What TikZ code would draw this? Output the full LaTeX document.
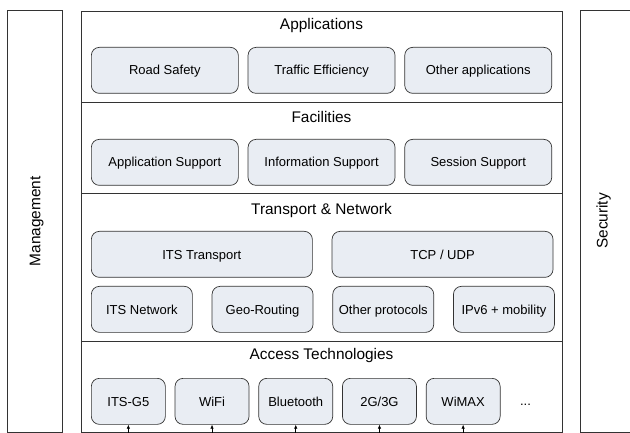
\documentclass[tikz,border=0pt]{standalone}
\usepackage{fontspec}
\setmainfont{Liberation Sans}
\usepackage{xcolor}
\usetikzlibrary{arrows.meta,positioning}
\definecolor{boxfill}{HTML}{E9EDF3}

\begin{document}
\begin{tikzpicture}[
    x=1pt, y=-1pt,
    node distance=9pt,
    layer/.style={draw=black!80, line width=0.8pt, minimum width=481pt, minimum height=#1, inner sep=0pt, anchor=north west},
    side/.style={draw=black!80, line width=0.8pt, minimum width=#1, minimum height=422pt, inner sep=0pt, anchor=north west},
    block/.style={draw=black!80, line width=0.7pt, rounded corners=8pt, fill=boxfill, minimum width=#1, minimum height=46pt, inner sep=0pt, text height=9.3pt, text depth=0pt, font=\fontsize{13}{15}\selectfont, anchor=north west},
    block/.default=147pt,
    title/.style={font=\fontsize{15.4}{18}\selectfont, text height=11pt, text depth=0pt},
    up/.style={-{Latex[length=4pt, width=3.5pt]}, line width=0.6pt}
]
\useasboundingbox (0,0) rectangle (630,433);
% side columns
\node[side=55pt] (mgmt) at (7,10) {};
\node[title, rotate=90] (mgmtlab) at (mgmt.center) {Management};
\node[side=80pt] (sec) at (580,10) {};
\node[title, rotate=90] (seclab) at (602,221) {Security};
% layers
\node[layer=91pt] (appsl) at (81,11) {};
\node[layer=91pt] (facl) at (81,102) {};
\node[layer=148pt] (tnl) at (81,193) {};
\node[layer=91pt] (accl) at (81,341) {};
\node[title] (appst) at (321.5,24.5) {Applications};
\node[title] (fact) at (321.5,117) {Facilities};
\node[title] (tnt) at (321.5,209) {Transport \& Network};
\node[title] (acct) at (321.5,354) {Access Technologies};
% applications
\node[block] (road) at (91,47) {Road Safety};
\node[block, right=of road] (traffic) {Traffic Efficiency};
\node[block, right=of traffic] (otherapp) {Other applications};
% facilities
\node[block] (appsup) at (91,139) {Application Support};
\node[block, right=of appsup] (infosup) {Information Support};
\node[block, right=of infosup] (sesssup) {Session Support};
% transport & network
\node[block=221pt] (itstr) at (91,231) {ITS Transport};
\node[block=221pt, right=19pt of itstr] (tcpudp) {TCP / UDP};
\node[block=101pt] (itsnet) at (91,286) {ITS Network};
\node[block=101pt, right=19pt of itsnet] (geo) {Geo-Routing};
\node[block=101pt, right=19pt of geo] (otherpr) {Other protocols};
\node[block=101pt, right=19pt of otherpr] (ipv6) {IPv6 + mobility};
% access technologies
\node[block=74pt] (g5) at (91,378) {ITS-G5};
\node[block=74pt, right=of g5] (wifi) {WiFi};
\node[block=74pt, right=of wifi] (bt) {Bluetooth};
\node[block=74pt, right=of bt] (cell) {2G/3G};
\node[block=74pt, right=of cell] (wimax) {WiMAX};
\node[font=\fontsize{13}{15}\selectfont, right=16pt of wimax, yshift=-3pt] (more) {...};
\coordinate (base) at (0,433);
\foreach \n in {g5,wifi,bt,cell,wimax}
  \draw[up] (\n.south |- base) -- (\n.south);
\end{tikzpicture}
\end{document}
